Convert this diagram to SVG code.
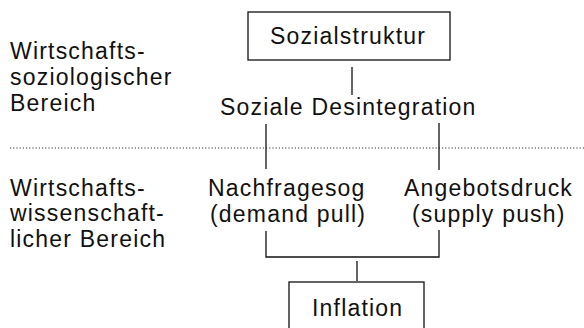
<svg xmlns="http://www.w3.org/2000/svg" width="584" height="328" viewBox="0 0 584 328">
<style>
text{font-family:"Liberation Sans",Arial,Helvetica,sans-serif;font-size:23px;fill:#111;letter-spacing:1.2px}
.box{fill:#fff;stroke:#111;stroke-width:1.3}
.ln{stroke:#111;stroke-width:1.3;fill:none}
.dot{stroke:#333;stroke-width:1;stroke-dasharray:1.2 2;fill:none}
</style>
<rect width="584" height="328" fill="#fff"/>
<g id="separator"><line class="dot" x1="10" y1="148" x2="584" y2="148"/></g>
<g id="label-upper">
<text x="10" y="59">Wirtschafts-</text>
<text x="10" y="85">soziologischer</text>
<text x="10" y="111">Bereich</text>
</g>
<g id="label-lower">
<text x="10" y="196">Wirtschafts-</text>
<text x="10" y="221">wissenschaft-</text>
<text x="10" y="247">licher Bereich</text>
</g>
<g id="connectors">
<line class="ln" x1="352" y1="67" x2="352" y2="95"/>
<line class="ln" x1="266" y1="124" x2="266" y2="169"/>
<line class="ln" x1="439" y1="123" x2="439" y2="170"/>
<polyline class="ln" points="266,231 266,257 439,257 439,230"/>
<line class="ln" x1="357" y1="261" x2="357" y2="281"/>
</g>
<g id="sozialstruktur">
<rect class="box" x="248" y="12" width="202" height="48"/>
<text x="270" y="44">Sozialstruktur</text>
</g>
<g id="desintegration">
<text x="220" y="115">Soziale Desintegration</text>
</g>
<g id="nachfragesog">
<text x="208" y="196">Nachfragesog</text>
<text x="210" y="222">(demand pull)</text>
</g>
<g id="angebotsdruck">
<text x="404" y="196">Angebotsdruck</text>
<text x="412" y="222">(supply push)</text>
</g>
<g id="inflation">
<rect class="box" x="289" y="282" width="135" height="60"/>
<text x="312" y="316">Inflation</text>
</g>
</svg>
